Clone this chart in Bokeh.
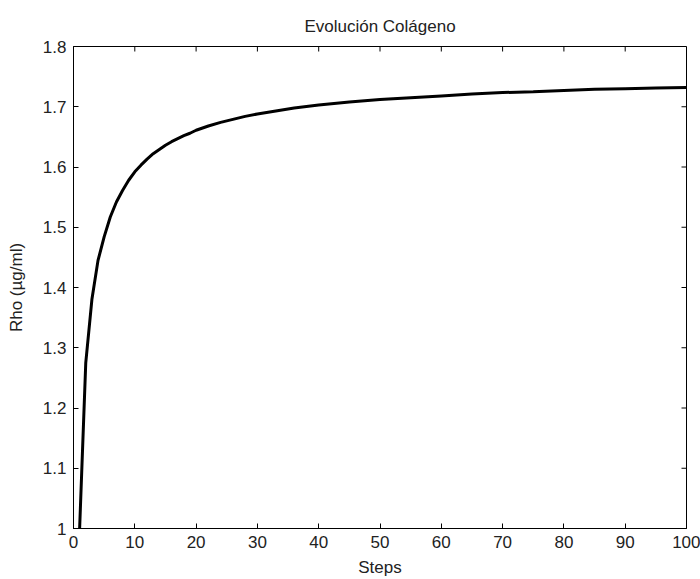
import math
from bokeh.plotting import figure
from bokeh.models import FixedTicker, CustomJSTickFormatter, Range1d, ColumnDataSource
from bokeh.embed import file_html
from bokeh.resources import INLINE

# Data
steps = [1, 2, 3, 4, 5, 6, 7, 8, 9, 10, 11, 12, 13, 14, 15, 16, 17, 18, 19, 20,
         22, 24, 26, 28, 30, 33, 36, 40, 45, 50, 55, 60, 65, 70, 75, 80, 85, 90, 95, 100]
rho = [1.000, 1.275, 1.380, 1.445, 1.484, 1.517, 1.542, 1.561, 1.578, 1.592,
       1.603, 1.613, 1.622, 1.629, 1.636, 1.642, 1.647, 1.652, 1.656, 1.661,
       1.668, 1.674, 1.679, 1.684, 1.688, 1.693, 1.698, 1.703, 1.708, 1.712,
       1.715, 1.718, 1.721, 1.7235, 1.725, 1.727, 1.729, 1.730, 1.731, 1.732]
x_ticks = [0, 10, 20, 30, 40, 50, 60, 70, 80, 90, 100]
y_ticks = [1.0, 1.1, 1.2, 1.3, 1.4, 1.5, 1.6, 1.7, 1.8]
x_lo, x_hi = 0, 100
y_lo, y_hi = 1.0, 1.8

FONT = "Liberation Sans"
FS = "17px"
TXT = "#222222"

p = figure(width=700, height=579, output_backend="svg", toolbar_location=None,
           x_range=Range1d(x_lo, x_hi), y_range=Range1d(y_lo, y_hi),
           title="Evolución Colágeno",
           min_border_left=73, min_border_right=14, min_border_top=46, min_border_bottom=50)

p.background_fill_color = "white"
p.border_fill_color = "white"
p.outline_line_color = "black"
p.xgrid.visible = False
p.ygrid.visible = False

p.title.align = "center"
p.title.text_font = FONT
p.title.text_font_size = FS
p.title.text_font_style = "normal"
p.title.text_color = TXT
p.title.standoff = 21

src = ColumnDataSource(dict(x=steps, y=rho))
p.line("x", "y", source=src, line_color="black", line_width=3)

# inward ticks on the top and right edges of the box (MATLAB style)
p.ray(x=x_ticks, y=[y_hi] * len(x_ticks), length=5, length_units="screen",
      angle=-math.pi / 2, line_color="black", line_width=1)
p.ray(x=[x_hi] * len(y_ticks), y=y_ticks, length=5, length_units="screen",
      angle=math.pi, line_color="black", line_width=1)

fmt = CustomJSTickFormatter(code="return String(Number(tick.toFixed(1)));")

def style(ax):
    ax.major_tick_in = 5
    ax.major_tick_out = 0
    ax.minor_tick_line_color = None
    ax.axis_line_color = "black"
    ax.major_tick_line_color = "black"
    ax.major_label_text_font = FONT
    ax.major_label_text_font_size = FS
    ax.major_label_text_color = TXT
    ax.axis_label_text_font = FONT
    ax.axis_label_text_font_size = FS
    ax.axis_label_text_font_style = "normal"
    ax.axis_label_text_color = TXT

xa = p.xaxis[0]
xa.ticker = FixedTicker(ticks=x_ticks)
xa.axis_label = "Steps"
xa.major_label_standoff = 7
xa.axis_label_standoff = 7
style(xa)

ya = p.yaxis[0]
ya.ticker = FixedTicker(ticks=y_ticks)
ya.formatter = fmt
ya.axis_label = "Rho (µg/ml)"
ya.major_label_standoff = 7
ya.axis_label_standoff = 14
style(ya)

open("out.html", "w").write(file_html(p, INLINE))
